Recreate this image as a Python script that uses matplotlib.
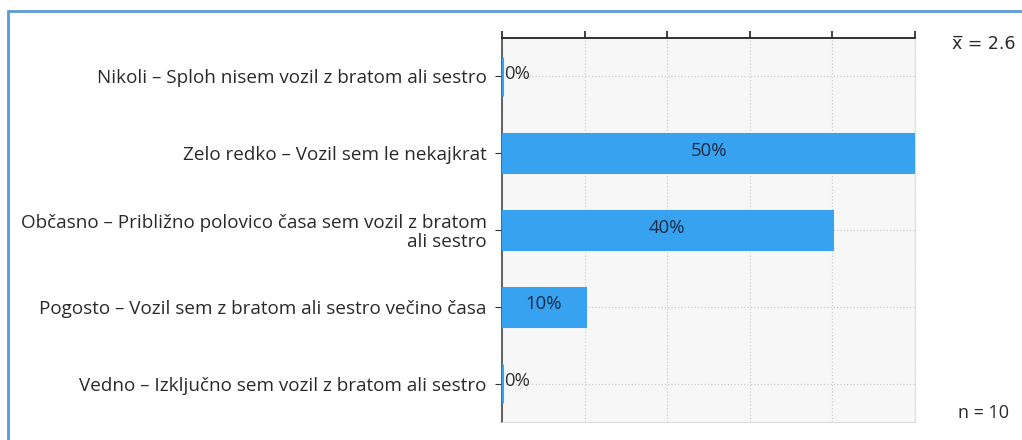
import matplotlib
matplotlib.use("Agg")
import matplotlib.pyplot as plt
from matplotlib.patches import Rectangle

# Podatki
kategorije = [
    "Nikoli – Sploh nisem vozil z bratom ali sestro",
    "Zelo redko – Vozil sem le nekajkrat",
    "Občasno – Približno polovico časa sem vozil z bratom\nali sestro",
    "Pogosto – Vozil sem z bratom ali sestro večino časa",
    "Vedno – Izključno sem vozil z bratom ali sestro",
]
odstotki = [0, 50, 40, 10, 0]
povprecje = "2.6"
n = 10

plt.rcParams["font.family"] = ["Open Sans", "DejaVu Sans"]

fig = plt.figure(figsize=(10.22, 4.4), dpi=100)
ax = fig.add_axes([502 / 1022, 1 - 422 / 440, 413 / 1022, 384 / 440])

barva = "#36a2f0"
y = list(range(len(kategorije)))
ax.barh(y, odstotki, height=0.5, color=barva, edgecolor=barva, linewidth=2.2, zorder=3)

ax.set_xlim(0, 50)
ax.set_ylim(len(kategorije) - 0.5, -0.5)
ax.set_facecolor("#f7f7f7")
ax.grid(True, linestyle=":", color="#d0d0d0", linewidth=0.9, zorder=0)

ax.set_yticks(y)
ax.set_yticklabels(kategorije, fontsize=13.6, color="#2a2a2a", linespacing=1.1)
ax.tick_params(axis="y", length=5, color="#333333", pad=6)

ax.set_xticks([0, 10, 20, 30, 40, 50])
ax.xaxis.tick_top()
ax.tick_params(axis="x", direction="out", length=5, width=1.2, color="#222222",
               labeltop=False, labelbottom=False)

ax.spines["top"].set_color("#222222")
ax.spines["top"].set_linewidth(1.3)
ax.spines["left"].set_color("#555555")
ax.spines["left"].set_linewidth(1.3)
ax.spines["right"].set_color("#dddddd")
ax.spines["bottom"].set_color("#dddddd")

# Oznake odstotkov
for yi, v in zip(y, odstotki):
    if v == 0:
        ax.text(0.25, yi - 0.03, f"{v}%", ha="left", va="center", fontsize=13.3, color="#333333", zorder=4)
    else:
        ax.text(v / 2, yi - 0.03, f"{v}%", ha="center", va="center", fontsize=13.3, color="#1a2a45", zorder=4)

# Povprečje in n
fig.text(984 / 1022, 1 - 44 / 440, "x\u0305 = " + povprecje, ha="center", va="center",
         fontsize=12.5, color="#2a2a2a", family=["DejaVu Sans"])
fig.text(983 / 1022, 1 - 413 / 440, f"n = {n}", ha="center", va="center",
         fontsize=13, color="#2a2a2a")

# Okvir
fig.add_artist(Rectangle((8 / 1022, -0.1), 1.2, (440 - 11) / 440 + 0.1,
                         transform=fig.transFigure, fill=False,
                         edgecolor="#5b9bd5", linewidth=2))

fig.savefig("out.png", dpi=100)
